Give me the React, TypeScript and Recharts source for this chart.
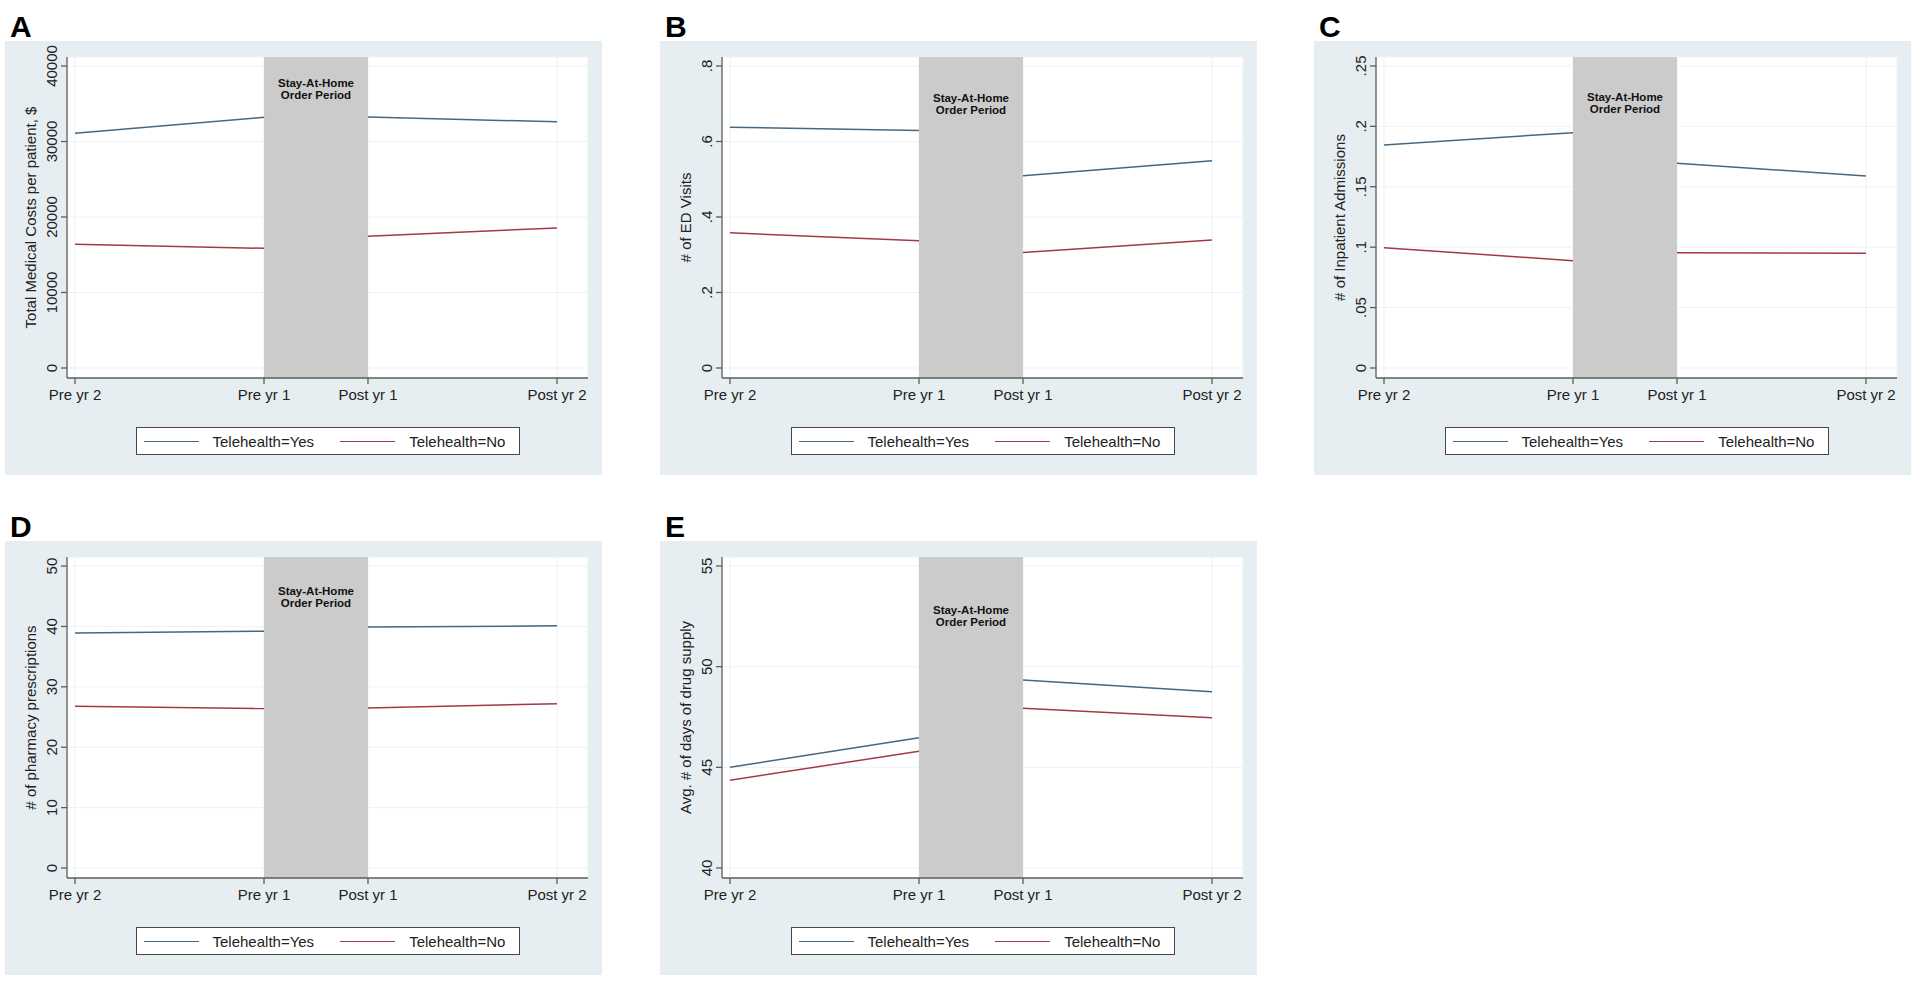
import React from "react";
import { LineChart, Line, XAxis, YAxis, CartesianGrid, ReferenceArea, ReferenceDot, Legend } from "recharts";

// time points on the x axis (Stata-style numeric positions)
const periods = ["Pre yr 2", "Pre yr 1", "Post yr 1", "Post yr 2"];
const periodX = [0, 1, 1.55, 2.55];
const stayAtHome = [1, 1.55];
const seriesNames = ["Telehealth=Yes", "Telehealth=No"];

// A: total medical costs
const costYes = [31100, 33200, 33250, 32600];
const costNo = [16400, 15850, 17450, 18550];
const costTicks = [0, 10000, 20000, 30000, 40000];

// B: ED visits
const edYes = [0.638, 0.629, 0.509, 0.549];
const edNo = [0.358, 0.337, 0.306, 0.339];
const edTicks = [0, 0.2, 0.4, 0.6, 0.8];

// C: inpatient admissions
const ipYes = [0.1846, 0.1948, 0.1694, 0.159];
const ipNo = [0.0996, 0.0888, 0.0954, 0.0949];
const ipTicks = [0, 0.05, 0.1, 0.15, 0.2, 0.25];

// D: pharmacy prescriptions
const rxYes = [38.9, 39.2, 39.9, 40.1];
const rxNo = [26.8, 26.4, 26.5, 27.2];
const rxTicks = [0, 10, 20, 30, 40, 50];

// E: days of drug supply
const daysYes = [45.0, 46.47, 49.34, 48.75];
const daysNo = [44.36, 45.8, 47.94, 47.46];
const daysTicks = [40, 45, 50, 55];

const FONT = '"Liberation Sans", Arial, sans-serif';
const BLUE = "#46677f";
const RED = "#a53845";
const PANEL_BG = "#e7eef1";
const AXIS = "#5c5c5c";

const W = 597;
const H = 434;

const buildRows = (yes: number[], no: number[]) =>
  periodX.map((x, i) => ({
    x,
    yesPre: i < 2 ? yes[i] : null,
    noPre: i < 2 ? no[i] : null,
    yesPost: i >= 2 ? yes[i] : null,
    noPost: i >= 2 ? no[i] : null,
  }));

const stataFmt = (v: number) => (v === 0 ? "0" : String(v).replace(/^0\./, "."));

const panels = [
  { letter: "A", left: 5, top: 41, title: "Total Medical Costs per patient, $", yes: costYes, no: costNo, ticks: costTicks, domain: [-1325, 41192], noteY: 36950 },
  { letter: "B", left: 660, top: 41, title: "# of ED Visits", yes: edYes, no: edNo, ticks: edTicks, domain: [-0.0265, 0.8238], noteY: 0.698 },
  { letter: "C", left: 1314, top: 41, title: "# of Inpatient Admissions", yes: ipYes, no: ipNo, ticks: ipTicks, domain: [-0.00828, 0.2574], noteY: 0.2194 },
  { letter: "D", left: 5, top: 541, title: "# of pharmacy prescriptions", yes: rxYes, no: rxNo, ticks: rxTicks, domain: [-1.656, 51.5], noteY: 44.9 },
  { letter: "E", left: 660, top: 541, title: "Avg. # of days of drug supply", yes: daysYes, no: daysNo, ticks: daysTicks, domain: [39.503, 55.447], noteY: 52.54 },
];

const YTick = (props: any) => {
  const { x, y, payload } = props;
  return (
    <text x={x} y={y} transform={`rotate(-90 ${x} ${y})`} textAnchor="middle" fontSize={15} fill="#222" fontFamily={FONT}>
      {stataFmt(payload.value)}
    </text>
  );
};

const YTitle = (props: any) => {
  const { viewBox, value } = props;
  const cx = viewBox.x + viewBox.width - 31;
  const cy = viewBox.y + viewBox.height / 2;
  return (
    <text x={cx} y={cy} transform={`rotate(-90 ${cx} ${cy})`} textAnchor="middle" fontSize={15} fill="#222" fontFamily={FONT}>
      {value}
    </text>
  );
};

const LegendBox = (props: any) => {
  const seen = new Set<string>();
  const items = (props.payload || [])
    .filter((p: any) => {
      if (p.type === "none" || seen.has(p.value)) return false;
      seen.add(p.value);
      return true;
    })
    .sort((a: any, b: any) => seriesNames.indexOf(a.value) - seriesNames.indexOf(b.value));
  return (
    <div style={{ display: "flex", justifyContent: "center" }}>
      <div
        style={{
          width: 384,
          height: 28,
          boxSizing: "border-box",
          border: "1.5px solid #474747",
          background: "#fff",
          display: "flex",
          alignItems: "center",
          paddingLeft: 7,
          fontFamily: FONT,
          fontSize: 15,
          color: "#222",
        }}
      >
        {items.map((p: any, i: number) => (
          <div key={p.value} style={{ display: "flex", alignItems: "center", marginLeft: i === 0 ? 0 : 26 }}>
            <div style={{ width: 55, height: 0, borderTop: `1.5px solid ${p.color}` }} />
            <span style={{ marginLeft: 14 }}>{p.value}</span>
          </div>
        ))}
      </div>
    </div>
  );
};

const bandMid = (stayAtHome[0] + stayAtHome[1]) / 2;

const Panel = ({ p }: { p: (typeof panels)[number] }) => (
  <div style={{ position: "absolute", left: p.left, top: p.top, width: W, height: H, background: PANEL_BG }}>
    <LineChart width={W} height={H} data={buildRows(p.yes, p.no)} margin={{ top: 16, right: 14, left: 0, bottom: 0 }}>
      <CartesianGrid stroke="#edf2f4" strokeWidth={1} fill="#ffffff" />
      <XAxis
        dataKey="x"
        type="number"
        domain={[-0.0423, 2.714]}
        ticks={periodX}
        tickFormatter={(v) => periods[periodX.indexOf(v)]}
        height={97}
        stroke={AXIS}
        strokeWidth={1.3}
        tickSize={6}
        tickMargin={5}
        tick={{ fontSize: 15, fill: "#222", fontFamily: FONT }}
        interval={0}
        allowDataOverflow
      />
      <YAxis
        type="number"
        domain={p.domain}
        ticks={p.ticks}
        width={62}
        stroke={AXIS}
        strokeWidth={1.3}
        tickSize={6}
        tickMargin={4}
        tick={<YTick />}
        interval={0}
        allowDataOverflow
        label={<YTitle value={p.title} />}
      />
      <ReferenceArea x1={stayAtHome[0]} x2={stayAtHome[1]} fill="#cbcbcb" fillOpacity={1} stroke="none" />
      <ReferenceDot
        x={bandMid}
        y={p.noteY}
        r={0}
        shape={(s: any) => (
          <text x={s.cx} y={s.cy} textAnchor="middle" fontSize={11.5} fontWeight="bold" fill="#111" fontFamily={FONT}>
            <tspan x={s.cx} dy={-2}>Stay-At-Home</tspan>
            <tspan x={s.cx} dy={12}>Order Period</tspan>
          </text>
        )}
      />
      <Line type="linear" dataKey="yesPre" name={seriesNames[0]} stroke={BLUE} strokeWidth={1.5} dot={false} activeDot={false} isAnimationActive={false} />
      <Line type="linear" dataKey="noPre" name={seriesNames[1]} stroke={RED} strokeWidth={1.5} dot={false} activeDot={false} isAnimationActive={false} />
      <Line type="linear" dataKey="yesPost" name={seriesNames[0]} legendType="none" stroke={BLUE} strokeWidth={1.5} dot={false} activeDot={false} isAnimationActive={false} />
      <Line type="linear" dataKey="noPost" name={seriesNames[1]} legendType="none" stroke={RED} strokeWidth={1.5} dot={false} activeDot={false} isAnimationActive={false} />
      <Legend
        layout="horizontal"
        verticalAlign="middle"
        align="center"
        content={<LegendBox />}
        wrapperStyle={{ top: 386, left: 62, width: 521, height: 28 }}
      />
    </LineChart>
  </div>
);

export default function App() {
  return (
    <div style={{ position: "relative", width: 1920, height: 981, background: "#fff", fontFamily: FONT }}>
      <style>{"body{margin:0}"}</style>
      {panels.map((p) => (
        <React.Fragment key={p.letter}>
          <div
            style={{
              position: "absolute",
              left: p.left + 5,
              top: p.top - 29,
              fontSize: 30,
              lineHeight: "30px",
              fontWeight: "bold",
              color: "#000",
              fontFamily: FONT,
            }}
          >
            {p.letter}
          </div>
          <Panel p={p} />
        </React.Fragment>
      ))}
    </div>
  );
}
